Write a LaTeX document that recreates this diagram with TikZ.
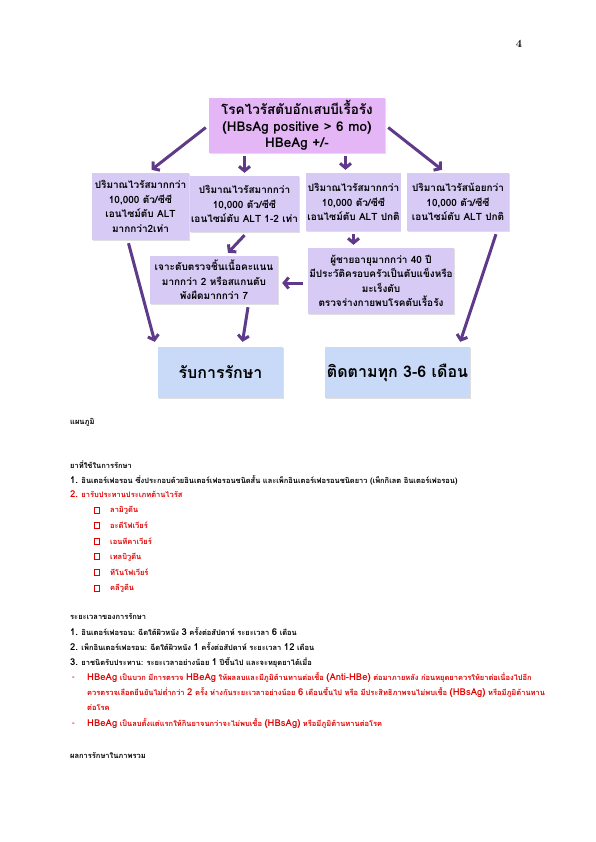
\documentclass[tikz,border=0pt]{standalone}
\usepackage{fontspec}
\newfontfamily\thaifont[Script=Thai]{Loma}
\usetikzlibrary{arrows.meta,calc,positioning,shadows}
\definecolor{toppink}{HTML}{E4B6F6}
\definecolor{lav}{HTML}{D7CBF6}
\definecolor{paleblue}{HTML}{C9DAF8}
\definecolor{arrpurple}{HTML}{5E3A88}
\definecolor{txtred}{HTML}{E00000}
\newcommand{\lt}[1]{{\fontsize{9.5}{9}\selectfont #1}}
\tikzset{
  box/.style    = {fill=lav, align=center, inner sep=1pt,
                   font=\thaifont\bfseries\fontsize{10}{14.5}\selectfont,
                   drop shadow={opacity=0.25, shadow xshift=0.8pt, shadow yshift=-1.2pt}},
  topbox/.style = {box, fill=toppink, font=\thaifont\bfseries\fontsize{13.5}{16.5}\selectfont},
  endbox/.style = {box, fill=paleblue, font=\thaifont\bfseries\fontsize{16}{19}\selectfont},
  arr/.style    = {-{Straight Barb[length=4.5pt,width=11pt]}, line width=3pt, arrpurple},
  txt/.style    = {anchor=west, inner sep=0pt, font=\thaifont\bfseries\fontsize{7.5}{9}\selectfont},
  redtxt/.style = {txt, txtred},
  sqbox/.style  = {draw=txtred, line width=0.8pt, minimum width=4.5pt, minimum height=6pt, inner sep=0pt},
}
\begin{document}
\begin{tikzpicture}[x=1pt,y=-1pt]
  \useasboundingbox (0,0) rectangle (595,842);
  \node[font=\bfseries\fontsize{11}{13}\selectfont] (pageno) at (519,44) {4};

  % chart
  \node[topbox, minimum width=176pt, minimum height=55pt] (chronic) at (297,125.5)
       {โรคไวรัสตับอักเสบบีเรื้อรัง\\(HBsAg positive > 6 mo)\\HBeAg +/-};
  \node[box, minimum width=97pt, minimum height=67pt] (highalt) at (140.5,206.5)
       {ปริมาณไวรัสมากกว่า\\10,000 ตัว/ซีซี\\เอนไซม์ตับ ALT\\มากกว่า2เท่า};
  \node[box, minimum width=101pt, minimum height=56pt] (midalt) at (244.5,204)
       {ปริมาณไวรัสมากกว่า\\10,000 ตัว/ซีซี\\เอนไซม์ตับ ALT 1-2 เท่า};
  \node[box, minimum width=93pt, minimum height=58pt] (normalt) at (353.5,202)
       {ปริมาณไวรัสมากกว่า\\10,000 ตัว/ซีซี\\เอนไซม์ตับ ALT ปกติ};
  \node[box, minimum width=102pt, minimum height=58pt] (lowvl) at (458,202)
       {ปริมาณไวรัสน้อยกว่า\\10,000 ตัว/ซีซี\\เอนไซม์ตับ ALT ปกติ};
  \node[box, minimum width=128pt, minimum height=48pt] (biopsy) at (214,280)
       {เจาะตับตรวจชิ้นเนื้อคะแนน\\มากกว่า 2 หรือสแกนตับ\\พังผืดมากกว่า 7};
  \node[box, minimum width=146pt, minimum height=66pt] (risk) at (381,281)
       {ผู้ชายอายุมากกว่า 40 ปี\\มีประวัติครอบครัวเป็นตับแข็งหรือ\\มะเร็งตับ\\ตรวจร่างกายพบโรคตับเรื้อรัง};
  \node[endbox, minimum width=125pt, minimum height=51pt] (treat) at (220.5,372.5) {รับการรักษา};
  \node[endbox, minimum width=145pt, minimum height=51pt] (follow) at (397.5,372.5) {ติดตามทุก 3-6 เดือน};

  \draw[arr] ($(chronic.west)+(-3,2)$) -- ($(highalt.north)+(11,-3)$);
  \draw[arr] ($(chronic.south -| midalt.north)+(0,3)$) -- ($(midalt.north)+(0,-3)$);
  \draw[arr] ($(chronic.south -| normalt.north)+(-8,3)$) -- ($(normalt.north)+(-8,-3)$);
  \draw[arr] ($(chronic.east)+(3,2)$) -- ($(lowvl.north)+(-16,-3)$);
  \draw[arr] ($(midalt.south)+(0,3)$) -- ($(biopsy.north)+(14,-3)$);
  \draw[arr] ($(normalt.south)+(0,3)$) -- ($(normalt.south |- risk.north)+(0,-3)$);
  \draw[arr] ($(risk.west)+(-5,2)$) -- ($(biopsy.east)+(4,3)$);
  \draw[arr] ($(highalt.south)+(-12,3)$) -- ($(treat.north west)+(-3,-5)$);
  \draw[arr] ($(biopsy.south)+(34,3)$) -- ($(treat.north)+(22,-5)$);
  \draw[arr] ($(lowvl.south)+(38,3)$) -- ($(follow.north east)+(-10,-5)$);

  % text below the chart
  \node[txt] (chartcap) at (70,422) {แผนภูมิ};
  \node[txt] (drughead) at (70,465) {ยาที่ใช้ในการรักษา};
  \node[txt] (drug1) at (70,480) {\lt{1.} อินเตอร์เฟอรอน ซึ่งประกอบด้วยอินเตอร์เฟอรอนชนิดสั้น และเพ็กอินเตอร์เฟอรอนชนิดยาว (เพ็กกิเลต อินเตอร์เฟอรอน)};
  \node[redtxt] (drug2) at (70,494.5) {\lt{2.} ยารับประทานประเภทต้านไวรัส};
  \foreach \drug [count=\i] in {ลามิวูดีน, อะดีโฟเวียร์, เอนทีคาเวียร์, เทลบิวูดีน, ทีโนโฟเวียร์, คลีวูดีน}{
    \node[sqbox] (sq\i) at (97,{510+(\i-1)*15.6}) {};
    \node[redtxt] (oral\i) at (110,{510+(\i-1)*15.6}) {\drug};
  }
  \node[txt] (timehead) at (70,616) {ระยะเวลาของการรักษา};
  \node[txt] (time1) at (70,632) {\lt{1.} อินเตอร์เฟอรอน: ฉีดใต้ผิวหนัง \lt{3} ครั้งต่อสัปดาห์ ระยะเวลา \lt{6} เดือน};
  \node[txt] (time2) at (70,647) {\lt{2.} เพ็กอินเตอร์เฟอรอน: ฉีดใต้ผิวหนัง \lt{1} ครั้งต่อสัปดาห์ ระยะเวลา \lt{12} เดือน};
  \node[txt] (time3) at (70,662) {\lt{3.} ยาชนิดรับประทาน: ระยะเวลาอย่างน้อย \lt{1} ปีขึ้นไป และจะหยุดยาได้เมื่อ};
  \node[redtxt] (dash1) at (72,678) {-};
  \node[redtxt] (stop1) at (87,678) {\lt{HBeAg} เป็นบวก มีการตรวจ \lt{HBeAg} ให้ผลลบและมีภูมิต้านทานต่อเชื้อ \lt{(Anti-HBe)} ต่อมาภายหลัง ก่อนหยุดยาควรให้ยาต่อเนื่องไปอีก};
  \node[redtxt] (stop2) at (87,693) {ควรตรวจเลือดยืนยันไม่ต่ำกว่า \lt{2} ครั้ง ห่างกันระยะเวลาอย่างน้อย \lt{6} เดือนขึ้นไป หรือ มีประสิทธิภาพจนไม่พบเชื้อ \lt{(HBsAg)} หรือมีภูมิต้านทาน};
  \node[redtxt] (stop3) at (87,708) {ต่อโรค};
  \node[redtxt] (dash2) at (72,724) {-};
  \node[redtxt] (stop4) at (87,724) {\lt{HBeAg} เป็นลบตั้งแต่แรกให้กินยาจนกว่าจะไม่พบเชื้อ \lt{(HBsAg)} หรือมีภูมิต้านทานต่อโรค};
  \node[txt] (resulthead) at (70,755) {ผลการรักษาในภาพรวม};
\end{tikzpicture}
\end{document}
